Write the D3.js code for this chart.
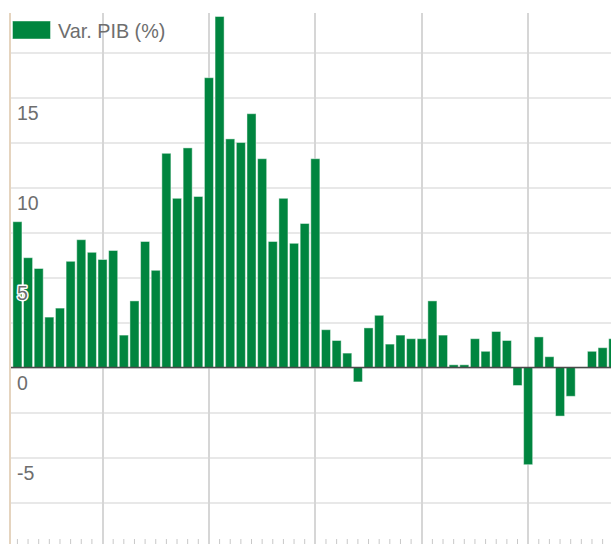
<!DOCTYPE html>
<html>
<head>
<meta charset="utf-8">
<script src="https://cdn.jsdelivr.net/npm/d3@7"></script>
<style>
  html, body { margin: 0; padding: 0; background: #fff; }
  svg { display: block; }
</style>
</head>
<body>
<script>
// ---- data ----
const periods = d3.range(1962, 2019).map(String);
const gdpGrowth = [
  8.1, 6.1, 5.5, 2.8, 3.3, 5.9, 7.1, 6.4, 6.0, 6.5,
  1.8, 3.7, 7.0, 5.4, 11.9, 9.4, 12.2, 9.5, 16.1, 19.5,
  12.7, 12.5, 14.1, 11.6, 7.0, 9.4, 6.9, 8.0, 11.6, 2.1,
  1.5, 0.8, -0.8, 2.2, 2.9, 1.3, 1.8, 1.6, 1.6, 3.7,
  1.8, 0.15, 0.15, 1.6, 0.9, 2.0, 1.5, -1.0, -5.4, 1.7,
  0.6, -2.7, -1.6, null, 0.9, 1.1, 1.6
];
const seriesName = "Var. PIB (%)";
const yGridValues = d3.range(-7.5, 17.6, 2.5);
const yLabelValues = [15, 10, 5, 0, -5];
const xGridPeriods = ["1970", "1980", "1990", "2000", "2010"];

// ---- layout ----
const W = 611, H = 544;
const plotTop = 13, plotBottom = 544, plotLeft = 11;
const svg = d3.select("body").append("svg").attr("width", W).attr("height", H);

const x = d3.scaleBand().domain(periods)
  .range([12.1, 12.1 + periods.length * 10.64])
  .paddingInner(0.15).paddingOuter(0.075);
const y = d3.scaleLinear().domain([-10, 20]).range([547.5, 7.5]);

svg.append("defs").append("clipPath").attr("id", "plot")
  .append("rect").attr("x", plotLeft).attr("y", plotTop)
  .attr("width", W - plotLeft).attr("height", plotBottom - plotTop);

const g = svg.append("g").attr("clip-path", "url(#plot)");

// horizontal gridlines
const yGrid = g.append("g").attr("transform", `translate(${plotLeft},0)`)
  .call(d3.axisRight(y).tickValues(yGridValues).tickSize(W - plotLeft).tickFormat(""));
yGrid.select(".domain").remove();
yGrid.selectAll("line").attr("stroke", "#e0e0e0").attr("stroke-width", 1.5);

// vertical gridlines
const xc = d => x(d) + x.bandwidth() / 2;
g.selectAll("line.vgrid").data(xGridPeriods).join("line")
  .attr("class", "vgrid")
  .attr("x1", d => Math.round(xc(d))).attr("x2", d => Math.round(xc(d)))
  .attr("y1", plotTop).attr("y2", plotBottom)
  .attr("stroke", "#d6d6d6").attr("stroke-width", 2);

// bottom minor ticks
const tickPeriods = periods.filter(p => !xGridPeriods.includes(p));
const xAxis = svg.append("g").attr("transform", "translate(0,539)")
  .call(d3.axisBottom(x).tickValues(tickPeriods).tickSize(5).tickFormat(""));
xAxis.select(".domain").remove();
xAxis.selectAll("line").attr("stroke", "#c8c8c8").attr("stroke-width", 1);

// bars
const data = periods.map((p, i) => ({ p, v: gdpGrowth[i] })).filter(d => d.v !== null);
g.selectAll("rect.bar").data(data).join("rect")
  .attr("class", "bar")
  .attr("x", d => x(d.p))
  .attr("width", x.bandwidth())
  .attr("y", d => y(Math.max(0, d.v)))
  .attr("height", d => Math.abs(y(d.v) - y(0)))
  .attr("fill", "#00853f")
  .attr("stroke", "rgba(255,255,255,0.45)")
  .attr("stroke-width", 1);

// zero line
svg.append("line")
  .attr("x1", plotLeft).attr("x2", W)
  .attr("y1", y(0)).attr("y2", y(0))
  .attr("stroke", "#4a4a4a").attr("stroke-width", 1.5);

// left axis line
svg.append("line")
  .attr("x1", 10).attr("x2", 10)
  .attr("y1", plotTop).attr("y2", plotBottom)
  .attr("stroke", "#dcc6aa").attr("stroke-width", 1.5);

// y labels (inside, below gridline)
svg.selectAll("text.ylab").data(yLabelValues).join("text")
  .attr("class", "ylab")
  .attr("x", 17).attr("y", d => y(d) + 22.5)
  .attr("font-family", "Liberation Sans, Arial, sans-serif")
  .attr("font-size", 19.5)
  .attr("fill", "#6e6e6e")
  .attr("stroke", "#fff").attr("stroke-width", 3)
  .attr("stroke-linejoin", "round")
  .attr("paint-order", "stroke")
  .text(d => d);

// legend
const lg = svg.append("g");
lg.append("rect").attr("x", 12.5).attr("y", 21).attr("width", 38).attr("height", 18)
  .attr("fill", "#00853f").attr("stroke", "rgba(255,255,255,0.45)");
lg.append("text").attr("x", 58).attr("y", 38)
  .attr("font-family", "Liberation Sans, Arial, sans-serif")
  .attr("font-size", 19.8).attr("fill", "#6e6e6e")
  .text(seriesName);
</script>
</body>
</html>
